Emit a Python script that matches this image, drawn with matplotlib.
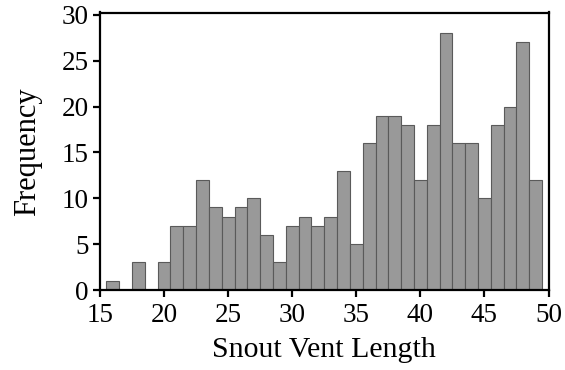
import matplotlib
matplotlib.use("Agg")
import matplotlib.pyplot as plt

lengths = list(range(16, 50))
counts = [1, 0, 3, 0, 3, 7, 7, 12, 9, 8, 9, 10, 6, 3, 7, 8, 7, 8, 13, 5,
          16, 19, 19, 18, 12, 18, 28, 16, 16, 10, 18, 20, 27, 12]
x_ticks = [15, 20, 25, 30, 35, 40, 45, 50]
y_ticks = [0, 5, 10, 15, 20, 25, 30]

plt.rcParams['font.family'] = ['Liberation Serif', 'DejaVu Serif']

fig = plt.figure(figsize=(5.65, 3.7), dpi=100)
ax = fig.add_axes([100/565, 1-290/370, 448.5/565, 277.5/370])
ax.bar(lengths, counts, width=1.0, align='center', color='#999999',
       edgecolor='#5a5a5a', linewidth=0.8, zorder=2)
ax.set_xlim(15, 50)
ax.set_ylim(0, 30.27)
ax.set_xticks(x_ticks)
ax.set_yticks(y_ticks)
for s in ax.spines.values():
    s.set_linewidth(1.6)
    s.set_zorder(3)
ax.tick_params(direction='out', length=5, width=1.6, labelsize=19.5)
ax.tick_params(axis='x', pad=4)
ax.tick_params(axis='y', pad=3)
ax.set_xlabel('Snout Vent Length', fontsize=21.5, labelpad=7)
ax.set_ylabel('Frequency', fontsize=22, labelpad=14)
fig.savefig('out.png', dpi=100)
